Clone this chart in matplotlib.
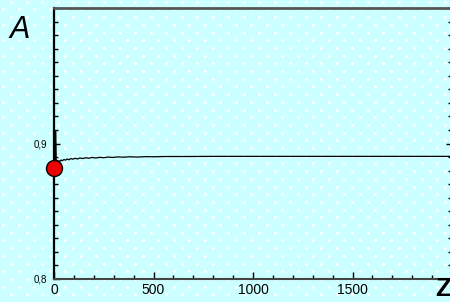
import matplotlib.pyplot as plt
import numpy as np
from matplotlib.ticker import MultipleLocator

plt.rcParams['font.family'] = ['Liberation Sans', 'DejaVu Sans']

# curve A(Z)
z_vals = [0, 4, 8, 10, 12, 15, 18, 22, 26, 30, 36, 42, 50, 58, 66, 75, 85, 95, 105,
          118, 130, 145, 160, 175, 190, 210, 230, 250, 270, 295, 320, 350, 380, 420,
          460, 500, 560, 650, 800, 1000, 1300, 1600, 2000]
a_vals = [0.882, 0.884, 0.909, 0.900, 0.878, 0.884, 0.8875, 0.8862, 0.8872, 0.8868,
          0.8878, 0.8873, 0.8882, 0.8877, 0.8886, 0.8880, 0.8889, 0.8884, 0.8891,
          0.8886, 0.8893, 0.8889, 0.8895, 0.8891, 0.8897, 0.8893, 0.8898, 0.8895,
          0.8900, 0.8897, 0.8901, 0.8899, 0.8902, 0.8900, 0.8903, 0.8902, 0.8904,
          0.8904, 0.8905, 0.8905, 0.8905, 0.8905, 0.8905]
start_z = [0]
start_a = [0.882]
x_ticks = [0, 500, 1000, 1500]
x_labels = ['0', '500', '1000', '1500']
y_ticks = [0.8, 0.9]
y_labels = ['0,8', '0,9']

fig = plt.figure(figsize=(4.5, 3.02), dpi=100)
fig.patch.set_facecolor('#CCFFFF')

# dotted background texture
bg = fig.add_axes([0, 0, 1, 1], zorder=-1)
bg.set_xlim(0, 450)
bg.set_ylim(302, 0)
bg.axis('off')
rows = np.arange(1.7, 302, 7.7)
for i, ry in enumerate(rows):
    xs = np.arange(3.3 + (7.75 if i % 2 == 0 else 0), 452, 15.5)
    bg.scatter(xs, np.full_like(xs, ry), s=4.5, color='white', linewidths=0)

ax = fig.add_axes([54 / 450, 1 - 279 / 302, 398 / 450, 271 / 302])
ax.patch.set_visible(False)
ax.plot(z_vals, a_vals, color='black', lw=0.9)
ax.plot(start_z, start_a, 'o', ms=11.5, mfc='#EE0000', mec='black', mew=1.0,
        clip_on=False, zorder=5)
ax.set_xlim(0, 2000)
ax.set_ylim(0.8, 1.0)

ax.set_xticks(x_ticks)
ax.set_xticklabels(x_labels, fontsize=10)
ax.set_yticks(y_ticks)
ax.set_yticklabels(y_labels, fontsize=7)
ax.xaxis.set_minor_locator(MultipleLocator(100))
ax.yaxis.set_minor_locator(MultipleLocator(0.01))
ax.tick_params(which='both', direction='in', top=False, right=True, colors='black')
ax.tick_params(axis='x', which='major', length=5, width=1, pad=3)
ax.tick_params(axis='x', which='minor', length=3, width=1)
ax.tick_params(axis='y', which='major', length=4, width=1, pad=5)
ax.tick_params(axis='y', which='minor', length=3, width=1)

ax.spines['left'].set_linewidth(1.6)
ax.spines['left'].set_color('black')
ax.spines['bottom'].set_linewidth(1.5)
ax.spines['bottom'].set_color('#444444')
ax.spines['top'].set_linewidth(2)
ax.spines['top'].set_color('#555555')
ax.spines['right'].set_visible(False)

fig.text(10 / 450, 1 - 38 / 302, 'A', fontsize=22, style='italic', ha='left', va='baseline')
fig.text(435 / 450, 1 / 302, 'Z', fontsize=19, weight='bold', ha='left', va='bottom')

fig.savefig('out.png', dpi=100, facecolor=fig.get_facecolor())
